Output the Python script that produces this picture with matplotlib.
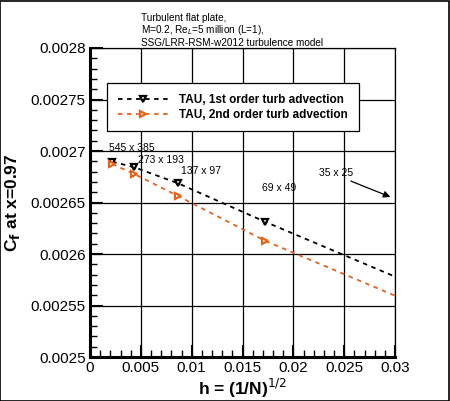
import numpy as np
import matplotlib.pyplot as plt
from matplotlib.ticker import MultipleLocator

plt.rcParams['font.family'] = ['Liberation Sans', 'DejaVu Sans']

# grid labels and spacing h = 1/sqrt(N)
grids = ["545 x 385", "273 x 193", "137 x 97", "69 x 49", "35 x 25"]
h = np.array([1 / np.sqrt(545 * 385), 1 / np.sqrt(273 * 193),
              1 / np.sqrt(137 * 97), 1 / np.sqrt(69 * 49), 1 / np.sqrt(35 * 25)])

# skin friction at x=0.97
cf_1st = [0.0026896, 0.0026842, 0.0026686, 0.0026314, 0.0025622]
cf_2nd = [0.0026874, 0.0026777, 0.0026563, 0.0026129, 0.0025437]

# where the grid names sit (left edge, centre)
lab_x = [0.00187, 0.00472, 0.00895, 0.01692, 0.02252]
lab_y = [0.0027029, 0.0026913, 0.0026806, 0.0026641, 0.0026786]

label_1st = "TAU, 1st order turb advection"
label_2nd = "TAU, 2nd order turb advection"
orange = "#e3641e"

fig = plt.figure(figsize=(4.5, 4.01), dpi=100)
ax = fig.add_axes([0.2, 0.1097, 0.6778, 0.7706])

ax.plot(h, cf_1st, color="black", ls=(0, (2.5, 2.5)), lw=1.3, marker="v",
        ms=5, mfc="white", mec="black", mew=1.6, label=label_1st)
ax.plot(h, cf_2nd, color=orange, ls=(0, (2.5, 2.5)), lw=1.3, marker=">",
        ms=5, mfc="white", mec=orange, mew=1.6, label=label_2nd)

ax.set_xlim(0, 0.03)
ax.set_ylim(0.0025, 0.0028)
ax.xaxis.set_minor_locator(MultipleLocator(0.001))
ax.yaxis.set_minor_locator(MultipleLocator(0.00001))
ax.set_xticks(np.arange(0, 0.0301, 0.005))
ax.set_xticklabels(["0", "0.005", "0.01", "0.015", "0.02", "0.025", "0.03"])
ax.set_yticks(np.arange(0.0025, 0.00281, 0.00005))
ax.set_yticklabels(["0.0025", "0.00255", "0.0026", "0.00265", "0.0027",
                    "0.00275", "0.0028"])
ax.grid(True, which="major", color="black", lw=0.9)
ax.tick_params(which="both", direction="in", top=False, right=False,
               labelsize=11, color="black")
ax.tick_params(which="major", length=9, width=1.5, pad=3)
ax.tick_params(which="minor", length=5, width=1.0)
for side in ["left", "bottom"]:
    ax.spines[side].set_linewidth(2.2)
for side in ["top", "right"]:
    ax.spines[side].set_linewidth(0.9)

ax.set_xlabel(r"h = (1/N)$^{1/2}$", fontsize=12.5, fontweight="bold",
              labelpad=1)
ax.set_ylabel(r"C$_\mathbf{f}$ at x=0.97", fontsize=12.5, fontweight="bold",
              labelpad=6)

for name, x, y in zip(grids, lab_x, lab_y):
    ax.text(x, y, name, fontsize=7.5, va="center")
ax.annotate("", xy=(0.0298, 0.0026544), xytext=(0.0254, 0.0026718),
            arrowprops=dict(arrowstyle="-|>", color="black", lw=0.9,
                            mutation_scale=10))

leg = ax.legend(loc="upper left", bbox_to_anchor=(0.037, 0.905),
                prop=dict(size=8.5, weight="bold"), handlelength=4.3,
                numpoints=1, frameon=True, fancybox=False, edgecolor="black",
                borderpad=0.9, labelspacing=0.25, handletextpad=0.9)
leg.get_frame().set_linewidth(0.9)
leg.get_frame().set_alpha(1)

fig.text(0.313, 0.968, "Turbulent flat plate,\nM=0.2, Re$_L$=5 million (L=1),\n"
         "SSG/LRR-RSM-w2012 turbulence model", fontsize=7.2, va="top",
         linespacing=1.05)

fig.patches.append(plt.Rectangle((0.001, 0.001), 0.997, 0.997,
                                 transform=fig.transFigure, fill=False,
                                 edgecolor="black", lw=1.2))

fig.savefig("out.png", dpi=100)
